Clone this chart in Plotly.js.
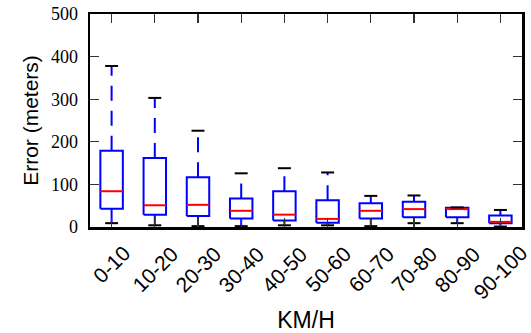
<!DOCTYPE html>
<html>
<head>
<meta charset="utf-8">
<script src="https://cdn.plot.ly/plotly-3.0.1.min.js"></script>
<style>html,body{margin:0;padding:0;background:#fff;}#chart{width:531px;height:333px;}</style>
</head>
<body>
<div id="chart"></div>
<script>
// Data (meters), per speed bin
const categories = ['0-10','10-20','20-30','30-40','40-50','50-60','60-70','70-80','80-90','90-100'];
const upperCap = [378, 303, 226, 126, 138, 128, 73, 74, 46, 40];
const q3       = [179, 162, 117,  67,  84,  63, 56, 59, 45, 27];
const median   = [ 84,  51,  52,  38,  29,  19, 38, 42, 42, 12];
const q1       = [ 43,  29,  26,  20,  15,  10, 20, 23, 23,  9];
const lowerCap = [  9,   4,   2,   2,   4,   4,  2,  9,  9,  1];
const yTicks = [0, 100, 200, 300, 400, 500];

const BOX_HALF = 0.26, CAP_HALF = 0.15;
const pos = categories.map((c, i) => i + 1);

function segs(fn) {
  const xs = [], ys = [];
  pos.forEach((p, i) => { const s = fn(p, i); xs.push(...s.x, null); ys.push(...s.y, null); });
  return {x: xs, y: ys};
}

const boxes = segs((p, i) => ({x: [p-BOX_HALF, p+BOX_HALF, p+BOX_HALF, p-BOX_HALF, p-BOX_HALF], y: [q1[i], q1[i], q3[i], q3[i], q1[i]]}));
const meds  = segs((p, i) => ({x: [p-BOX_HALF, p+BOX_HALF], y: [median[i], median[i]]}));
const upW   = segs((p, i) => ({x: [p, p], y: [q3[i], upperCap[i]]}));
const loW   = segs((p, i) => ({x: [p, p], y: [q1[i], lowerCap[i]]}));
const caps  = (() => {
  const xs = [], ys = [];
  pos.forEach((p, i) => {
    xs.push(p-CAP_HALF, p+CAP_HALF, null, p-CAP_HALF, p+CAP_HALF, null);
    ys.push(upperCap[i], upperCap[i], null, lowerCap[i], lowerCap[i], null);
  });
  return {x: xs, y: ys};
})();

const base = {type: 'scatter', mode: 'lines', hoverinfo: 'skip', showlegend: false, connectgaps: false, cliponaxis: false};
const traces = [
  Object.assign({}, base, {x: upW.x, y: upW.y, line: {color: '#0000ff', width: 2, dash: '15px,10px'}}),
  Object.assign({}, base, {x: loW.x, y: loW.y, line: {color: '#0000ff', width: 2, dash: '15px,10px'}}),
  Object.assign({}, base, {x: boxes.x, y: boxes.y, line: {color: '#0000ff', width: 2}}),
  Object.assign({}, base, {x: meds.x, y: meds.y, line: {color: '#ff0000', width: 2}}),
  Object.assign({}, base, {x: caps.x, y: caps.y, line: {color: '#000000', width: 2}})
];

const annotations = categories.map((c, i) => ({
  x: pos[i], xref: 'x', y: 0, yref: 'paper', yshift: -12,
  text: c, showarrow: false, textangle: -45,
  xanchor: 'center', yanchor: 'top',
  font: {family: 'Liberation Sans, Arial, sans-serif', size: 21, color: '#000'}
}));

const layout = {
  width: 531, height: 333,
  margin: {l: 90, r: 9, t: 14, b: 106},
  paper_bgcolor: '#fff', plot_bgcolor: '#fff',
  showlegend: false,
  xaxis: {
    range: [0.5, 10.5], tickvals: pos, ticktext: categories, showticklabels: false,
    ticks: 'inside', ticklen: 9, tickwidth: 1.2, tickcolor: '#333',
    showline: true, linecolor: '#000', linewidth: 2.5, mirror: 'ticks',
    showgrid: false, zeroline: false,
    title: {text: 'KM/H', font: {family: 'Liberation Sans, Arial, sans-serif', size: 23, color: '#000'}, standoff: 90}
  },
  yaxis: {
    range: [0, 500], tickvals: yTicks, ticktext: yTicks.map(String),
    ticks: 'inside', ticklen: 9, tickwidth: 1.2, tickcolor: '#333',
    showline: true, linecolor: '#000', linewidth: 2.5, mirror: 'ticks',
    showgrid: false, zeroline: false,
    tickfont: {family: 'Liberation Serif, Times New Roman, serif', size: 18, color: '#000'},
    ticklabelstandoff: 6,
    title: {text: 'Error (meters)', font: {family: 'Liberation Sans, Arial, sans-serif', size: 21, color: '#000'}, standoff: 7}
  },
  annotations: annotations
};

Plotly.newPlot('chart', traces, layout, {staticPlot: true, displayModeBar: false});
</script>
</body>
</html>
